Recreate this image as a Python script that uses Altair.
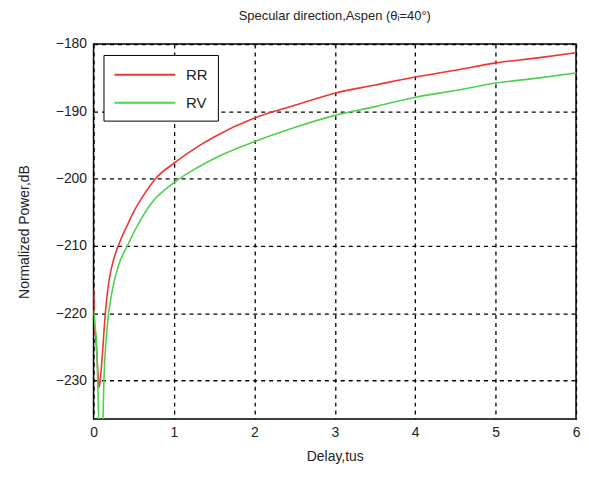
import altair as alt
import pandas as pd

rr_x = [0.0, 0.01, 0.03, 0.05, 0.07, 0.09, 0.15, 0.19, 0.25, 0.33, 0.42, 0.5, 0.625, 0.77, 1.0, 1.3, 1.5, 2.0, 2.5, 3.0, 3.5, 4.0, 4.5, 5.0, 5.5, 6.0]
rr_y = [-216.4, -221.0, -224.0, -228.0, -231.0, -229.0, -219.5, -215.3, -212.0, -209.3, -206.9, -204.9, -202.4, -200.0, -197.7, -195.2, -193.8, -191.0, -189.1, -187.3, -186.1, -184.9, -183.9, -182.8, -182.1, -181.3]
rv_x = [0.0, 0.02, 0.04, 0.06, 0.08, 0.11, 0.13, 0.17, 0.23, 0.31, 0.42, 0.54, 0.71, 1.0, 1.3, 1.5, 2.0, 2.5, 3.0, 3.5, 4.0, 4.5, 5.0, 5.5, 6.0]
rv_y = [-219.5, -222.0, -225.0, -234.0, -240.0, -238.0, -229.6, -222.0, -216.8, -212.9, -210.0, -207.1, -203.8, -200.6, -198.3, -197.0, -194.5, -192.4, -190.6, -189.3, -187.9, -186.9, -185.8, -185.1, -184.3]

x_ticks = [0, 1, 2, 3, 4, 5, 6]
y_ticks = [-230, -220, -210, -200, -190, -180]

df = pd.concat([
    pd.DataFrame({"x": rr_x, "y": rr_y, "s": "RR", "o": range(len(rr_x))}),
    pd.DataFrame({"x": rv_x, "y": rv_y, "s": "RV", "o": range(len(rv_x))}),
])

FONT = "Liberation Sans"

chart = alt.Chart(df).mark_line(strokeWidth=1.6, clip=True, interpolate="monotone").encode(
    x=alt.X("x:Q", scale=alt.Scale(domain=[0, 6], nice=False, zero=False),
            axis=alt.Axis(values=x_ticks, title="Delay,tus", format="d",
                          grid=True, gridDash=[4, 4], gridColor="#000", gridWidth=1.3,
                          gridOpacity=1, ticks=False, domain=False, labelFlush=False,
                          labelFont=FONT, labelFontSize=14, labelColor="#222",
                          labelPadding=7, titleFont=FONT, titleFontSize=14,
                          titleFontWeight="normal", titleColor="#222", titlePadding=10)),
    y=alt.Y("y:Q", scale=alt.Scale(domain=[-235.7, -180], nice=False, zero=False),
            axis=alt.Axis(values=y_ticks, title="Normalized Power,dB", format="d",
                          grid=True, gridDash=[4, 4], gridColor="#000", gridWidth=1.3,
                          gridOpacity=1, ticks=False, domain=False, labelFlush=False,
                          labelFont=FONT, labelFontSize=14, labelColor="#222",
                          labelPadding=7, titleFont=FONT, titleFontSize=14,
                          titleFontWeight="normal", titleColor="#222", titlePadding=24)),
    color=alt.Color("s:N", scale=alt.Scale(domain=["RR", "RV"], range=["#f03434", "#4cd24c"]),
                    legend=alt.Legend(title=None, orient="none", legendX=10, legendY=11,
                                      symbolType="M-1,0H5.8", symbolSize=324, symbolStrokeWidth=2,
                                      labelFont=FONT, labelFontSize=15, labelColor="#222",
                                      fillColor="white", strokeColor="#000", padding=10,
                                      rowPadding=10, labelOffset=53)),
    order="o:Q",
).properties(
    width=485, height=377,
    title=alt.Title("Specular direction,Aspen (θᵢ=40°)", font=FONT, fontSize=13,
                    fontWeight="normal", color="#222", offset=14),
    padding={"left": 86, "top": 35, "right": 5, "bottom": 50},
    autosize=alt.AutoSizeParams(type="none"),
).configure_view(stroke="#000", strokeWidth=1.5)

chart.save("out.html", embed_options={"renderer": "svg", "actions": False})
